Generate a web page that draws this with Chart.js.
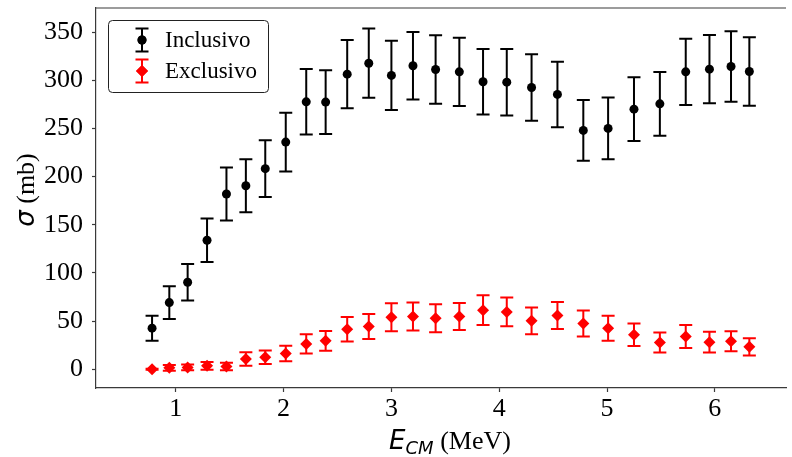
<!DOCTYPE html>
<html>
<head>
<meta charset="utf-8">
<script src="https://cdn.jsdelivr.net/npm/chart.js@4.4.0/dist/chart.umd.min.js"></script>
<style>
  html, body { margin: 0; padding: 0; background: #fff; }
  #wrap { width: 792px; height: 457px; }
</style>
</head>
<body>
<div id="wrap"><canvas id="xsChart"></canvas></div>
<script>
// center-of-mass energy (MeV)
const energy = [0.78, 0.94, 1.11, 1.29, 1.47, 1.65, 1.83, 2.02, 2.21, 2.39, 2.59, 2.79, 3.00, 3.20,
  3.41, 3.63, 3.85, 4.07, 4.30, 4.54, 4.78, 5.01, 5.25, 5.49, 5.73, 5.95, 6.15, 6.32];

// cross sections (mb) and their errors
const inclusive = [42.6, 69.2, 90.3, 133.9, 181.9, 190.5, 208.2, 235.8, 277.6, 277.3, 306.3, 317.7, 305.0, 315.0,
  311.2, 308.7, 298.4, 298.0, 292.5, 285.3, 247.9, 250.0, 270.0, 275.5, 308.7, 311.5, 314.3, 309.1];
const inclusiveErr = [13, 17, 19, 22.5, 27.5, 27.5, 29.5, 30.5, 34, 33, 35.5, 36, 36, 35,
  35.5, 35.5, 34, 34.5, 34.5, 34, 31.5, 32, 33, 33, 34.5, 35.5, 36.5, 35.5];

const exclusive = [0.0, 1.5, 1.8, 3.5, 2.8, 10.5, 12.5, 16.3, 26.3, 29.5, 41.6, 44.3, 54.0, 54.7,
  53.0, 54.7, 61.3, 59.5, 50.2, 55.7, 47.4, 42.6, 35.7, 27.7, 33.9, 28.1, 29.1, 23.2];
const exclusiveErr = [0.5, 3, 3, 4, 4, 7, 7, 8, 10, 10.3, 12.7, 13, 14.5, 14.5,
  14.5, 14, 15.5, 15, 14, 14, 13.5, 13, 11.7, 10.4, 12, 10.7, 10.4, 9];

const xTicks = [1, 2, 3, 4, 5, 6];
const yTicks = [0, 50, 100, 150, 200, 250, 300, 350];

const serif = "'Liberation Serif', 'Times New Roman', serif";
const mathFont = "'DejaVu Sans', sans-serif";
const axisColor = '#3a3a3a';

const toPoints = (ys) => energy.map((e, i) => ({ x: e, y: ys[i] }));

// vertical error bars with caps, drawn under the markers
const errorBars = {
  id: 'errorBars',
  beforeDatasetsDraw(chart) {
    const { ctx, scales: { x, y } } = chart;
    ctx.save();
    chart.data.datasets.forEach((ds) => {
      ctx.strokeStyle = ds.borderColor;
      ctx.lineWidth = 2;
      ds.data.forEach((p, i) => {
        const px = x.getPixelForValue(p.x);
        const top = y.getPixelForValue(p.y + ds.errors[i]);
        const bot = y.getPixelForValue(p.y - ds.errors[i]);
        ctx.beginPath();
        ctx.moveTo(px, top); ctx.lineTo(px, bot);
        ctx.moveTo(px - 6.5, top); ctx.lineTo(px + 6.5, top);
        ctx.moveTo(px - 6.5, bot); ctx.lineTo(px + 6.5, bot);
        ctx.stroke();
      });
    });
    ctx.restore();
  }
};

// top spine, axis titles (mixed math/serif fonts) and the framed legend
const decorations = {
  id: 'decorations',
  afterDraw(chart) {
    const { ctx, chartArea } = chart;
    ctx.save();

    ctx.strokeStyle = axisColor;
    ctx.lineWidth = 1.2;
    ctx.beginPath();
    ctx.moveTo(chartArea.left, chartArea.top);
    ctx.lineTo(chartArea.right, chartArea.top);
    ctx.stroke();

    ctx.fillStyle = '#000';
    ctx.textBaseline = 'alphabetic';

    // x title: E_CM (MeV)
    const big = 26, small = 18;
    ctx.font = `italic ${big}px ${mathFont}`;
    const wE = ctx.measureText('E').width;
    ctx.font = `italic ${small}px ${mathFont}`;
    const wCM = ctx.measureText('CM').width;
    ctx.font = `${big}px ${serif}`;
    const wUnit = ctx.measureText(' (MeV)').width;
    let x0 = 450 - (wE + wCM + wUnit) / 2;
    const base = 449;
    ctx.font = `italic ${big}px ${mathFont}`;
    ctx.fillText('E', x0, base);
    ctx.font = `italic ${small}px ${mathFont}`;
    ctx.fillText('CM', x0 + wE, base + 5);
    ctx.font = `${big}px ${serif}`;
    ctx.fillText(' (MeV)', x0 + wE + wCM, base);

    // y title: sigma (mb)
    ctx.save();
    ctx.translate(34, 190);
    ctx.rotate(-Math.PI / 2);
    ctx.font = `italic ${big}px ${mathFont}`;
    const wS = ctx.measureText('σ').width;
    ctx.font = `${big}px ${serif}`;
    const wMb = ctx.measureText(' (mb)').width;
    let y0 = -(wS + wMb) / 2;
    ctx.font = `italic ${big}px ${mathFont}`;
    ctx.fillText('σ', y0, 0);
    ctx.font = `${big}px ${serif}`;
    ctx.fillText(' (mb)', y0 + wS, 0);
    ctx.restore();

    // legend
    const bx = 108.5, by = 20.5, bw = 160, bh = 72;
    ctx.fillStyle = 'rgba(255,255,255,0.8)';
    ctx.strokeStyle = '#222';
    ctx.lineWidth = 1;
    ctx.beginPath();
    ctx.roundRect(bx, by, bw, bh, 4);
    ctx.fill();
    ctx.stroke();

    chart.data.datasets.forEach((ds, i) => {
      const gx = 142, gy = 40 + i * 31;
      ctx.strokeStyle = ds.borderColor;
      ctx.lineWidth = 2;
      ctx.beginPath();
      ctx.moveTo(gx, gy - 11.5); ctx.lineTo(gx, gy + 11.5);
      ctx.moveTo(gx - 6.5, gy - 11.5); ctx.lineTo(gx + 6.5, gy - 11.5);
      ctx.moveTo(gx - 6.5, gy + 11.5); ctx.lineTo(gx + 6.5, gy + 11.5);
      ctx.stroke();
      ctx.fillStyle = ds.backgroundColor;
      Chart.helpers.drawPoint(ctx, { pointStyle: ds.pointStyle, radius: ds.pointRadius, rotation: 0, borderWidth: 0 }, gx, gy);
      ctx.fill();
      ctx.fillStyle = '#000';
      ctx.font = `23px ${serif}`;
      ctx.textBaseline = 'middle';
      ctx.fillText(ds.label, 165, gy + 1);
    });

    ctx.restore();
  }
};

const noPad = (scale) => {
  scale.paddingTop = 0;
  scale.paddingBottom = 0;
  scale.paddingLeft = 0;
  scale.paddingRight = 0;
};

new Chart(document.getElementById('xsChart'), {
  type: 'scatter',
  data: {
    datasets: [
      {
        label: 'Inclusivo',
        data: toPoints(inclusive),
        errors: inclusiveErr,
        pointStyle: 'circle',
        pointRadius: 4.5,
        backgroundColor: '#000',
        borderColor: '#000',
        borderWidth: 0,
      },
      {
        label: 'Exclusivo',
        data: toPoints(exclusive),
        errors: exclusiveErr,
        pointStyle: 'rectRot',
        pointRadius: 6,
        backgroundColor: '#ff0000',
        borderColor: '#ff0000',
        borderWidth: 0,
      },
    ],
  },
  options: {
    responsive: true,
    maintainAspectRatio: false,
    animation: false,
    events: [],
    layout: { padding: { top: 8, right: 0, left: 0, bottom: 0 } },
    plugins: {
      legend: { display: false },
      tooltip: { enabled: false },
    },
    scales: {
      x: {
        type: 'linear',
        min: 0.26,
        max: 6.66,
        afterFit: (scale) => { scale.height = 69; noPad(scale); },
        afterBuildTicks: (scale) => { scale.ticks = xTicks.map((v) => ({ value: v })); },
        ticks: {
          font: { family: serif, size: 26 },
          color: '#000',
          padding: 2,
          maxRotation: 0,
        },
        grid: { drawOnChartArea: false, drawTicks: true, tickLength: 4, tickColor: axisColor, tickWidth: 1.2 },
        border: { display: true, color: axisColor, width: 1.2 },
      },
      y: {
        type: 'linear',
        min: -19.5,
        max: 375,
        afterFit: (scale) => { scale.width = 96; noPad(scale); },
        afterBuildTicks: (scale) => { scale.ticks = yTicks.map((v) => ({ value: v })); },
        ticks: {
          font: { family: serif, size: 26 },
          color: '#000',
          padding: 9,
        },
        grid: { drawOnChartArea: false, drawTicks: true, tickLength: 4, tickColor: axisColor, tickWidth: 1.2 },
        border: { display: true, color: axisColor, width: 1.2 },
      },
    },
  },
  plugins: [errorBars, decorations],
});
</script>
</body>
</html>
